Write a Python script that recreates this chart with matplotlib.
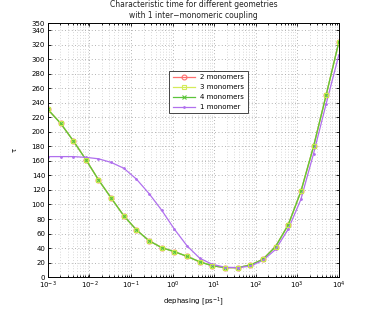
import numpy as np
import matplotlib
matplotlib.use("Agg")
import matplotlib.pyplot as plt
from matplotlib.ticker import LogLocator, NullFormatter

# dephasing rates: 24 log-spaced points from 1e-3 to 1e4 ps^-1
exponents = [-3 + i * 7 / 23 for i in range(24)]
dephasing = [10 ** e for e in exponents]

tau_2 = [231, 212, 188, 162, 134, 109, 84.5, 65, 50, 40.5, 35, 28.5,
         21, 15.6, 13, 13, 16.5, 24.5, 42, 72, 118, 180, 251, 324]
tau_3 = list(tau_2)
tau_4 = list(tau_2)
tau_1 = [166, 166, 166, 165, 163, 158, 150, 135, 115, 92, 66, 43,
         26, 17.5, 13.5, 13, 15, 23, 38, 66, 107, 170, 239, 306]

labels = ["2 monomers", "3 monomers", "4 monomers", "1 monomer"]

fig = plt.figure(figsize=(3.74, 3.12), dpi=100)
ax = fig.add_axes([0.128, 0.112, 0.778, 0.814])

ax.plot(dephasing, tau_2, color="#ff7070", marker="o", ms=3.5, mfc="none",
        mew=0.8, lw=0.9, label=labels[0])
ax.plot(dephasing, tau_3, color="#d4ec5a", marker="s", ms=3.5, mfc="none",
        mew=0.8, lw=0.9, label=labels[1])
ax.plot(dephasing, tau_4, color="#5cc43a", marker="x", ms=2.5,
        mew=0.8, lw=0.9, label=labels[2])
ax.plot(dephasing, tau_1, color="#b070ee", marker=".", ms=2,
        lw=0.9, label=labels[3])
# yellow-green squares sit on top of the green line in the reference
ax.plot(dephasing, tau_3, ls="none", color="#c8e850", marker="s", ms=3.5,
        mfc="none", mew=0.8)

ax.set_xscale("log")
ax.set_xlim(1e-3, 1e4)
ax.set_ylim(0, 350)
ax.set_yticks(list(range(0, 341, 20)) + [350])
ax.xaxis.set_major_locator(LogLocator(base=10, numticks=10))
ax.xaxis.set_minor_locator(LogLocator(base=10, subs=np.arange(2, 10), numticks=100))
ax.xaxis.set_minor_formatter(NullFormatter())

dots = (0, (1, 3))
ax.grid(True, which="major", ls=dots, color="#9a9a9a", lw=0.6)
ax.grid(True, which="minor", axis="x", ls=dots, color="#b5b5b5", lw=0.5)

ax.tick_params(which="both", direction="in", top=True, right=True,
               labelsize=5, length=2.5, width=0.6, pad=2)
ax.tick_params(which="minor", length=1.5)
for s in ax.spines.values():
    s.set_linewidth(0.7)

ax.set_xlabel("dephasing [ps$^{-1}$]", fontsize=5, labelpad=3)
ax.set_ylabel("τ", fontsize=5, labelpad=10)
ax.set_title("Characteristic time for different geometries\n"
             "with 1 inter−monomeric coupling", fontsize=5.5, pad=4,
             color="#222222")

leg = ax.legend(loc="upper left", bbox_to_anchor=(0.405, 0.825), fontsize=5,
                frameon=True, fancybox=False, edgecolor="#444444",
                borderpad=0.5, handlelength=3.2, labelspacing=0.55,
                framealpha=1)
leg.get_frame().set_linewidth(0.7)

fig.savefig("out.png", dpi=100)
